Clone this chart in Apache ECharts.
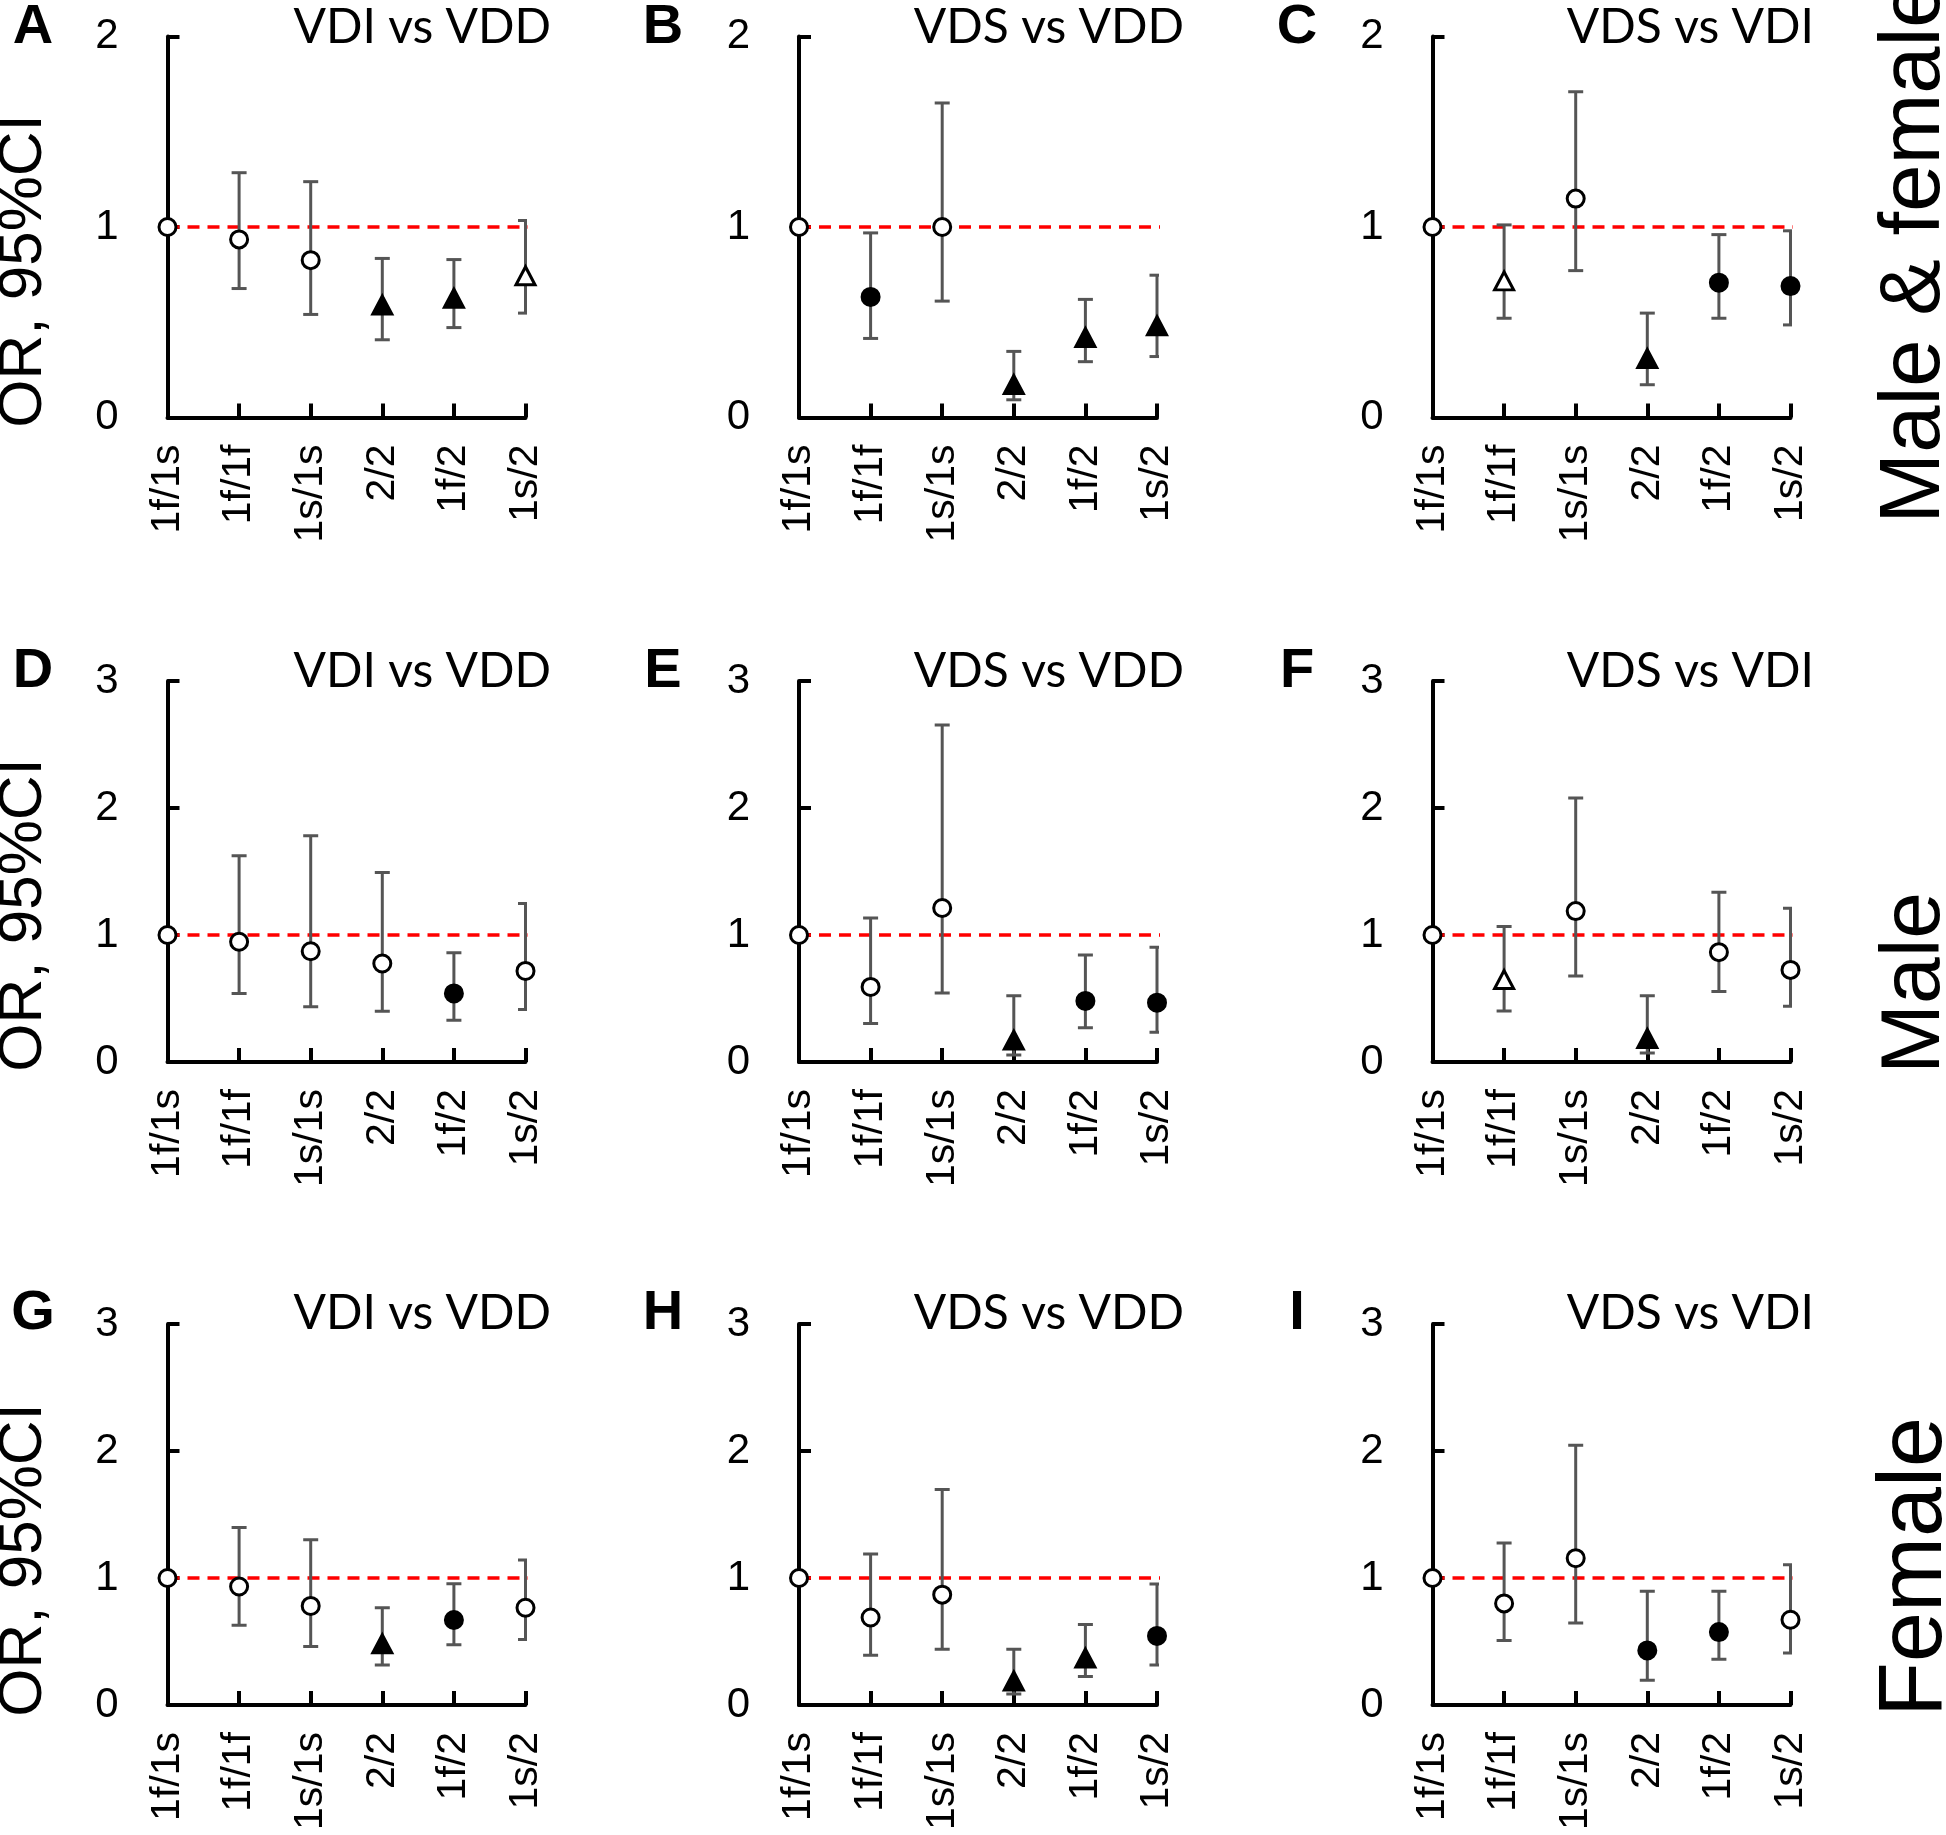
<!DOCTYPE html>
<html>
<head>
<meta charset="utf-8">
<script src="https://cdn.jsdelivr.net/npm/echarts@6/dist/echarts.min.js"></script>
<style>
  html, body { margin: 0; padding: 0; background: #fff; }
  #chart { width: 1946px; height: 1835px; }
</style>
</head>
<body>
<div id="chart"></div>
<script>
// categories and labels
const genotypes = ['1f/1s', '1f/1f', '1s/1s', '2/2', '1f/2', '1s/2'];
const panelLetters = ['A', 'B', 'C', 'D', 'E', 'F', 'G', 'H', 'I'];
const comparisons = ['VDI vs VDD', 'VDS vs VDD', 'VDS vs VDI'];
const groupLabels = ['Male & female', 'Male', 'Female'];
const yAxisName = 'OR, 95%CI';
const yMaxByRow = [2, 3, 3];
const REF_OR = 1;
const REF_END = 5.3; // dashed reference runs a little past the last genotype

// marker codes: oc = open circle, fc = filled circle, ot = open triangle, ft = filled triangle
// A: male & female, VDI vs VDD
const orA = [1, 0.935, 0.826, 0.59, 0.626, 0.744];
const loA = [null, 0.677, 0.541, 0.408, 0.472, 0.548];
const hiA = [null, 1.285, 1.238, 0.835, 0.829, 1.034];
const mkA = ['oc', 'oc', 'oc', 'ft', 'ft', 'ot'];
// B: male & female, VDS vs VDD
const orB = [1, 0.633, 1.0, 0.173, 0.42, 0.482];
const loB = [null, 0.415, 0.611, 0.093, 0.293, 0.32];
const hiB = [null, 0.969, 1.651, 0.347, 0.62, 0.747];
const mkB = ['oc', 'fc', 'oc', 'ft', 'ft', 'ft'];
// C: male & female, VDS vs VDI
const orC = [1, 0.717, 1.149, 0.309, 0.708, 0.69];
const loC = [null, 0.521, 0.771, 0.172, 0.521, 0.486];
const hiC = [null, 1.011, 1.71, 0.548, 0.96, 0.98];
const mkC = ['oc', 'ot', 'oc', 'ft', 'fc', 'fc'];
// D: male, VDI vs VDD
const orD = [1, 0.947, 0.872, 0.776, 0.54, 0.717];
const loD = [null, 0.54, 0.436, 0.399, 0.329, 0.413];
const hiD = [null, 1.625, 1.782, 1.493, 0.86, 1.248];
const mkD = ['oc', 'oc', 'oc', 'oc', 'fc', 'oc'];
// E: male, VDS vs VDD
const orE = [1, 0.591, 1.213, 0.172, 0.481, 0.467];
const loE = [null, 0.304, 0.543, 0.056, 0.27, 0.234];
const hiE = [null, 1.134, 2.654, 0.521, 0.842, 0.903];
const mkE = ['oc', 'oc', 'oc', 'ft', 'fc', 'fc'];
// F: male, VDS vs VDI
const orF = [1, 0.649, 1.188, 0.185, 0.865, 0.725];
const loF = [null, 0.402, 0.677, 0.07, 0.556, 0.438];
const hiF = [null, 1.067, 2.079, 0.522, 1.337, 1.211];
const mkF = ['oc', 'ot', 'oc', 'ft', 'oc', 'oc'];
// G: female, VDI vs VDD
const orG = [1, 0.933, 0.78, 0.482, 0.669, 0.766];
const loG = [null, 0.627, 0.46, 0.315, 0.474, 0.515];
const hiG = [null, 1.398, 1.301, 0.766, 0.955, 1.142];
const mkG = ['oc', 'oc', 'oc', 'ft', 'fc', 'oc'];
// H: female, VDS vs VDD
const orH = [1, 0.689, 0.869, 0.189, 0.369, 0.544];
const loH = [null, 0.392, 0.439, 0.086, 0.225, 0.314];
const hiH = [null, 1.189, 1.697, 0.439, 0.633, 0.953];
const mkH = ['oc', 'oc', 'oc', 'ft', 'ft', 'fc'];
// I: female, VDS vs VDI
const orI = [1, 0.8, 1.156, 0.43, 0.574, 0.671];
const loI = [null, 0.507, 0.646, 0.194, 0.36, 0.41];
const hiI = [null, 1.276, 2.046, 0.895, 0.895, 1.104];
const mkI = ['oc', 'oc', 'oc', 'fc', 'fc', 'oc'];

const panels = [
  [orA, loA, hiA, mkA], [orB, loB, hiB, mkB], [orC, loC, hiC, mkC],
  [orD, loD, hiD, mkD], [orE, loE, hiE, mkE], [orF, loF, hiF, mkF],
  [orG, loG, hiG, mkG], [orH, loH, hiH, mkH], [orI, loI, hiI, mkI],
];

// layout
const gridLeft = [167.5, 799, 1432.5];
const gridTop = [36.5, 681, 1324];
const gridW = 358;
const gridH = 381;
const titleRight = [551, 1184, 1814];
const letterX = [33, 663, 1297];
const headY = [28, 672, 1314];
const sideY = [252, 983, 1567];
const sideSize = [85, 84, 90];
const nameY = [271, 915, 1560];

const tickFont = 'Liberation Sans, Arial, sans-serif';

const grids = [], xAxes = [], yAxes = [], series = [], graphics = [];

panels.forEach(([or, lo, hi, mk], p) => {
  const r = Math.floor(p / 3), c = p % 3;
  grids.push({ left: gridLeft[c], top: gridTop[r], width: gridW, height: gridH });

  xAxes.push({
    gridIndex: p, type: 'value', min: 0, max: genotypes.length - 1, interval: 1,
    axisLine: { lineStyle: { color: '#000', width: 4 } },
    axisTick: { inside: true, length: 14, lineStyle: { color: '#000', width: 4 } },
    axisLabel: {
      rotate: 90, margin: 27, color: '#000', fontSize: 41, fontFamily: tickFont,
      formatter: (v) => genotypes[v] || '',
    },
    splitLine: { show: false },
  });
  yAxes.push({
    gridIndex: p, type: 'value', min: 0, max: yMaxByRow[r], interval: 1,
    axisLine: { show: true, lineStyle: { color: '#000', width: 4 } },
    axisTick: { show: true, inside: true, length: 12, lineStyle: { color: '#000', width: 4 } },
    axisLabel: { margin: 49, color: '#000', fontSize: 42, fontFamily: tickFont },
    splitLine: { show: false },
  });

  // OR = 1 reference
  series.push({
    type: 'line', xAxisIndex: p, yAxisIndex: p, silent: true, clip: false, z: 1,
    symbol: 'none', animation: false,
    data: [[0, REF_OR], [REF_END, REF_OR]],
    lineStyle: { color: '#ff0000', width: 3.5, type: [12, 8], opacity: 1 },
  });

  // 95% CI bars
  const ci = [];
  or.forEach((v, i) => { if (lo[i] != null) ci.push([i, lo[i], hi[i]]); });
  series.push({
    type: 'custom', xAxisIndex: p, yAxisIndex: p, silent: true, clip: true, z: 2,
    animation: false,
    lineStyle: { width: 3 },
    encode: { x: 0, y: [1, 2] },
    data: ci,
    renderItem(params, api) {
      const x = api.value(0);
      const top = api.coord([x, api.value(2)]);
      const bot = api.coord([x, api.value(1)]);
      const hw = 7.5;
      const style = { stroke: '#555', lineWidth: 3 };
      return {
        type: 'group',
        children: [
          { type: 'line', shape: { x1: top[0], y1: top[1], x2: bot[0], y2: bot[1] }, style },
          { type: 'line', shape: { x1: top[0] - hw, y1: top[1], x2: top[0] + hw, y2: top[1] }, style },
          { type: 'line', shape: { x1: bot[0] - hw, y1: bot[1], x2: bot[0] + hw, y2: bot[1] }, style },
        ],
      };
    },
  });

  // point estimates
  series.push({
    type: 'scatter', xAxisIndex: p, yAxisIndex: p, silent: true, clip: false, z: 3,
    animation: false,
    data: or.map((v, i) => {
      const tri = mk[i][1] === 't';
      const filled = mk[i][0] === 'f';
      return {
        value: [i, v],
        symbol: tri ? 'triangle' : 'circle',
        symbolSize: tri ? [19, 18] : 17,
        itemStyle: {
          color: filled ? '#000' : '#fff', borderColor: '#000', borderWidth: 3, opacity: 1,
        },
      };
    }),
  });

  // panel letter and comparison title
  graphics.push({
    type: 'text', x: letterX[c], y: headY[r],
    style: { text: panelLetters[p], font: 'bold 56px Liberation Sans, Arial, sans-serif',
      fill: '#000', align: 'center', verticalAlign: 'middle' },
  });
  graphics.push({
    type: 'text', x: titleRight[c], y: headY[r],
    style: { text: comparisons[c], font: '48px Lato, sans-serif',
      fill: '#000', align: 'right', verticalAlign: 'middle' },
  });
});

for (let r = 0; r < 3; r++) {
  graphics.push({
    type: 'text', x: 24, y: nameY[r], rotation: Math.PI / 2,
    style: { text: yAxisName, font: '62px Liberation Sans, Arial, sans-serif',
      fill: '#000', align: 'center', verticalAlign: 'middle' },
  });
  graphics.push({
    type: 'text', x: 1916, y: sideY[r], rotation: Math.PI / 2,
    style: { text: groupLabels[r], font: sideSize[r] + 'px Liberation Sans, Arial, sans-serif',
      fill: '#000', align: 'center', verticalAlign: 'middle' },
  });
}

const chart = echarts.init(document.getElementById('chart'), null, { renderer: 'canvas' });
chart.setOption({
  animation: false,
  backgroundColor: '#fff',
  grid: grids,
  xAxis: xAxes,
  yAxis: yAxes,
  series,
  graphic: graphics,
});
</script>
</body>
</html>
